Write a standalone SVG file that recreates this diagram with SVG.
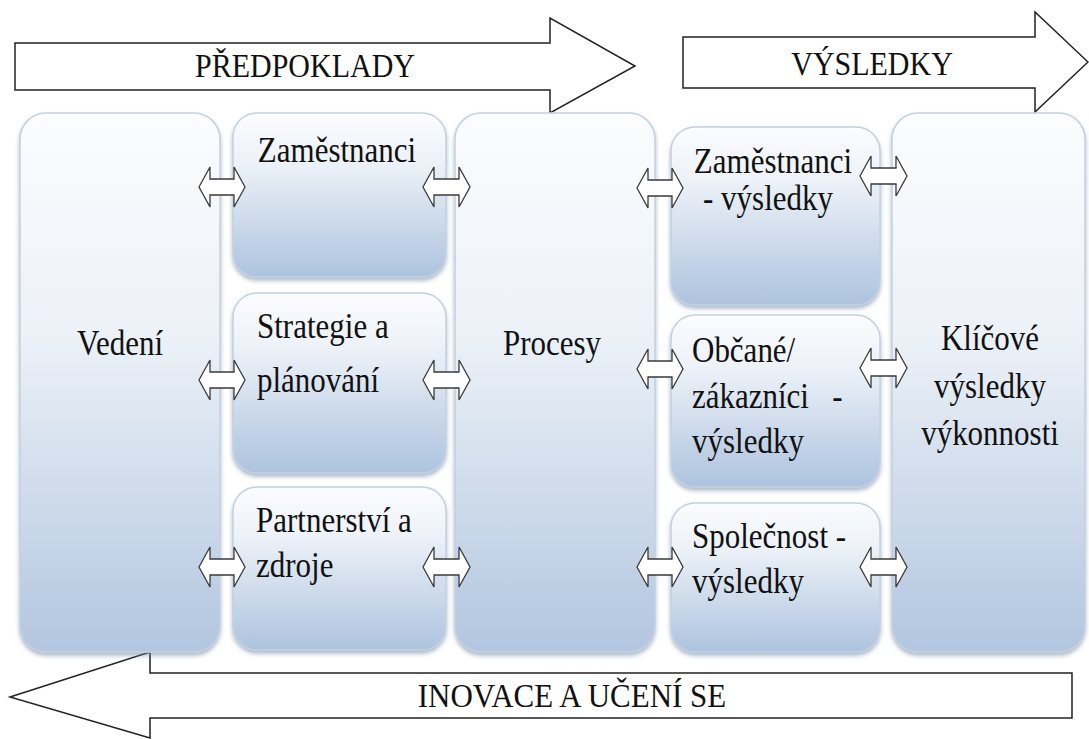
<svg xmlns="http://www.w3.org/2000/svg" width="1089" height="739" viewBox="0 0 1089 739">
<defs>
<linearGradient id="gBig" x1="0" y1="0" x2="0" y2="1">
<stop offset="0" stop-color="#fbfcfe"/>
<stop offset="0.4" stop-color="#edf2f8"/>
<stop offset="1" stop-color="#b2c6df"/>
</linearGradient>
<linearGradient id="gSmall" x1="0" y1="0" x2="0" y2="1">
<stop offset="0" stop-color="#fbfcfe"/>
<stop offset="0.3" stop-color="#edf2f8"/>
<stop offset="1" stop-color="#adc3de"/>
</linearGradient>
<filter id="sh" x="-10%" y="-10%" width="120%" height="125%">
<feDropShadow dx="0" dy="3" stdDeviation="2" flood-color="#6a819c" flood-opacity="0.55"/>
</filter>
</defs>
<style>
.big{fill:url(#gBig);stroke:#c3d1e2;stroke-width:1.5;filter:url(#sh)}
.sm{fill:url(#gSmall);stroke:#c3d1e2;stroke-width:1.5;filter:url(#sh)}
.t{font-size:31px;fill:#111}
.c{text-anchor:middle}
.band{fill:#ffffff;stroke:#222;stroke-width:1.5;stroke-linejoin:miter}
.bt{font-size:30px;fill:#111;text-anchor:middle}
.dbl{fill:#ffffff;stroke:#3a3a3a;stroke-width:1.3;stroke-linejoin:miter}
</style>
<rect width="1089" height="739" fill="#ffffff"/>
<g font-family="Liberation Serif, Tinos, Times New Roman, DejaVu Serif, serif">
<g id="arrow-predpoklady">
<polygon class="band" points="15,43 550,43 550,18 635,66 550,113 550,90 15,90"/>
<text class="bt" transform="translate(305 77) scale(1 1.1)">PŘEDPOKLADY</text>
</g>
<g id="arrow-vysledky">
<polygon class="band" points="683,37 1035,37 1035,12 1088,62 1035,112 1035,88 683,88"/>
<text class="bt" transform="translate(872 75) scale(1 1.1)">VÝSLEDKY</text>
</g>
<g id="arrow-inovace">
<polygon class="band" points="1072,673 150,673 150,652 10,697 150,738 150,718 1072,718"/>
<text class="bt" style="font-size:31px" transform="translate(572 707) scale(1 1.1)">INOVACE A UČENÍ SE</text>
</g>

<g id="vedeni">
<rect class="big" x="20" y="113" width="200" height="539" rx="26"/>
<text class="t c" transform="translate(120 355) scale(1 1.15)">Vedení</text>
</g>
<g id="zamestnanci">
<rect class="sm" x="233" y="113" width="213" height="164" rx="24"/>
<text class="t c" transform="translate(337 162) scale(1 1.15)">Zaměstnanci</text>
</g>
<g id="strategie">
<rect class="sm" x="233" y="293" width="213" height="180" rx="24"/>
<text class="t" transform="translate(257 338) scale(1 1.15)">Strategie a</text>
<text class="t" transform="translate(257 392) scale(1 1.15)">plánování</text>
</g>
<g id="partnerstvi">
<rect class="sm" x="233" y="487" width="213" height="163" rx="24"/>
<text class="t" transform="translate(256 532) scale(1 1.15)">Partnerství a</text>
<text class="t" transform="translate(256 577) scale(1 1.15)">zdroje</text>
</g>
<g id="procesy">
<rect class="big" x="455" y="113" width="200" height="539" rx="26"/>
<text class="t c" transform="translate(552 355) scale(1 1.15)">Procesy</text>
</g>
<g id="zamestnanci-vysledky">
<rect class="sm" x="671" y="127" width="209" height="178" rx="24"/>
<text class="t c" transform="translate(773 173) scale(1 1.15)">Zaměstnanci</text>
<text class="t c" transform="translate(768 210) scale(1 1.15)">- výsledky</text>
</g>
<g id="obcane-vysledky">
<rect class="sm" x="671" y="315" width="209" height="172" rx="24"/>
<text class="t" transform="translate(692 362) scale(1 1.15)">Občané/</text>
<text class="t" transform="translate(692 408) scale(1 1.15)" xml:space="preserve">zákazníci   -</text>
<text class="t" transform="translate(692 453) scale(1 1.15)">výsledky</text>
</g>
<g id="spolecnost-vysledky">
<rect class="sm" x="671" y="503" width="209" height="149" rx="24"/>
<text class="t" transform="translate(692 548) scale(1 1.15)">Společnost -</text>
<text class="t" transform="translate(692 593) scale(1 1.15)">výsledky</text>
</g>
<g id="klicove-vysledky">
<rect class="big" x="892" y="113" width="193" height="539" rx="26"/>
<text class="t c" transform="translate(990 350) scale(1 1.15)">Klíčové</text>
<text class="t c" transform="translate(990 398) scale(1 1.15)">výsledky</text>
<text class="t c" transform="translate(990 445) scale(1 1.15)">výkonnosti</text>
</g>
</g>
<g id="connectors">
<path class="dbl" d="M199,187 L210,167 L210,179 L234,179 L234,167 L245,187 L234,207 L234,195 L210,195 L210,207 Z"/>
<path class="dbl" d="M423,187 L434,167 L434,179 L459,179 L459,167 L470,187 L459,207 L459,195 L434,195 L434,207 Z"/>
<path class="dbl" d="M199,380 L210,360 L210,372 L234,372 L234,360 L245,380 L234,400 L234,388 L210,388 L210,400 Z"/>
<path class="dbl" d="M423,380 L434,360 L434,372 L459,372 L459,360 L470,380 L459,400 L459,388 L434,388 L434,400 Z"/>
<path class="dbl" d="M199,567 L210,547 L210,559 L234,559 L234,547 L245,567 L234,587 L234,575 L210,575 L210,587 Z"/>
<path class="dbl" d="M423,567 L434,547 L434,559 L459,559 L459,547 L470,567 L459,587 L459,575 L434,575 L434,587 Z"/>
<path class="dbl" d="M637,188 L648,168 L648,180 L672,180 L672,168 L683,188 L672,208 L672,196 L648,196 L648,208 Z"/>
<path class="dbl" d="M860,176 L871,156 L871,168 L896,168 L896,156 L907,176 L896,196 L896,184 L871,184 L871,196 Z"/>
<path class="dbl" d="M637,369 L648,349 L648,361 L672,361 L672,349 L683,369 L672,389 L672,377 L648,377 L648,389 Z"/>
<path class="dbl" d="M860,368 L871,348 L871,360 L896,360 L896,348 L907,368 L896,388 L896,376 L871,376 L871,388 Z"/>
<path class="dbl" d="M637,567 L648,547 L648,559 L672,559 L672,547 L683,567 L672,587 L672,575 L648,575 L648,587 Z"/>
<path class="dbl" d="M860,567 L871,547 L871,559 L896,559 L896,547 L907,567 L896,587 L896,575 L871,575 L871,587 Z"/>
</g>
</svg>
